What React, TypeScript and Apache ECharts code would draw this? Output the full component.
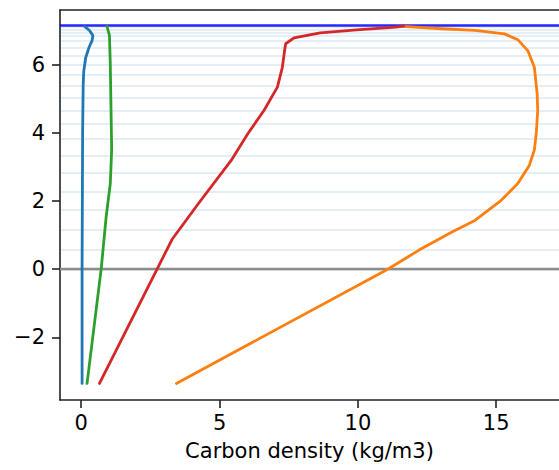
import React, { useEffect, useRef } from "react";
import * as echarts from "echarts";

// Layer boundary depths (m) drawn as faint horizontal lines
const layerLevels = [7.12, 7.03, 6.94, 6.85, 6.71, 6.5, 6.27, 6.0, 5.71, 5.39, 5.04, 4.66, 4.25, 3.81, 3.34, 2.84, 2.28, 1.73, 1.17, 0.56, -0.03];
const surfaceLevel = 7.14;
const zeroLevel = 0;

// Profiles: [carbon density (kg/m3), depth]
const profileBlue: [number, number][] = [
  [0.03, -3.35], [0.03, 0], [0.04, 2], [0.05, 4], [0.07, 5.4], [0.09, 5.8],
  [0.16, 6.2], [0.28, 6.5], [0.39, 6.7], [0.42, 6.85], [0.3, 7.0], [0.12, 7.12],
];
const profileGreen: [number, number][] = [
  [0.21, -3.35], [0.72, 0], [0.9, 1.53], [1.05, 2.51], [1.1, 3.5], [1.09, 4],
  [1.07, 5], [1.05, 6], [1.02, 6.85], [0.93, 7.12],
];
const profileRed: [number, number][] = [
  [0.66, -3.35], [3.28, 0.87], [4.23, 1.92], [5.42, 3.19], [6.02, 3.97], [6.61, 4.66],
  [7.09, 5.34], [7.27, 5.92], [7.35, 6.41], [7.39, 6.61], [7.69, 6.78], [8.64, 6.93],
  [9.95, 7.02], [11.38, 7.1], [11.66, 7.13],
];
const profileOrange: [number, number][] = [
  [3.44, -3.35], [11.08, 0.0], [12.21, 0.56], [13.4, 1.09], [14.23, 1.43], [15.18, 2.02],
  [15.78, 2.51], [16.2, 3.05], [16.38, 3.5], [16.45, 4.0], [16.5, 4.66], [16.48, 5.14],
  [16.38, 5.92], [16.14, 6.41], [15.78, 6.73], [15.3, 6.9], [14.23, 7.0], [13.04, 7.05],
  [11.61, 7.12],
];

const xTicks = [0, 5, 10, 15];
const yTicks = [-2, 0, 2, 4, 6];
const xTitle = "Carbon density (kg/m3)";

const FONT = "DejaVu Sans";

export default function App() {
  const ref = useRef<HTMLDivElement>(null);
  useEffect(() => {
    if (!ref.current) return;
    const chart = echarts.init(ref.current, undefined, { renderer: "svg" });
    const curve = (name: string, data: [number, number][], color: string) => ({
      name,
      type: "line",
      data,
      showSymbol: false,
      symbol: "none",
      smooth: false,
      lineStyle: { color, width: 2.8, join: "round", cap: "round" },
      z: 5,
      animation: false,
    });
    const fmt = (v: number) => (v < 0 ? "\u2212" + Math.abs(v) : String(v));
    chart.setOption({
      animation: false,
      grid: { left: 60, top: 10, bottom: 70, right: -6, containLabel: false },
      xAxis: [
        {
          type: "value",
          min: -0.768,
          max: 17.27,
          position: "bottom",
          name: xTitle,
          nameLocation: "middle",
          nameGap: 40,
          nameTextStyle: { fontFamily: FONT, fontSize: 21, color: "#000" },
          axisLine: { show: true, onZero: false, lineStyle: { color: "#222", width: 1.6 } },
          axisTick: { show: true, length: 8, lineStyle: { color: "#222", width: 1.6 }, customValues: xTicks },
          axisLabel: {
            fontFamily: FONT,
            fontSize: 21,
            color: "#000",
            margin: 12,
            customValues: xTicks,
            formatter: fmt,
          },
          splitLine: { show: false },
        },
        {
          type: "value",
          min: -0.768,
          max: 17.27,
          position: "top",
          axisLine: { show: true, onZero: false, lineStyle: { color: "#222", width: 1.6 } },
          axisTick: { show: false },
          axisLabel: { show: false },
          splitLine: { show: false },
        },
      ],
      yAxis: {
        type: "value",
        min: -3.836,
        max: 7.6,
        axisLine: { show: true, onZero: false, lineStyle: { color: "#222", width: 1.6 } },
        axisTick: { show: true, length: 8, lineStyle: { color: "#222", width: 1.6 }, customValues: yTicks },
        axisLabel: {
          fontFamily: FONT,
          fontSize: 21,
          color: "#000",
          margin: 15,
          customValues: yTicks,
          formatter: fmt,
        },
        splitLine: { show: false },
      },
      series: [
        {
          name: "layers",
          type: "line",
          data: [],
          z: 1,
          markLine: {
            silent: true,
            symbol: "none",
            label: { show: false },
            lineStyle: { color: "rgba(31,119,180,0.12)", width: 2, type: "solid" },
            data: layerLevels.map((y) => ({ yAxis: y })),
            animation: false,
          },
        },
        {
          name: "zero",
          type: "line",
          data: [],
          z: 2,
          markLine: {
            silent: true,
            symbol: "none",
            label: { show: false },
            lineStyle: { color: "#8c8c8c", width: 2.4, type: "solid" },
            data: [{ yAxis: zeroLevel }],
            animation: false,
          },
        },
        curve("C0", profileBlue, "#1f77b4"),
        curve("C1", profileOrange, "#ff7f0e"),
        curve("C2", profileGreen, "#2ca02c"),
        curve("C3", profileRed, "#d62728"),
        {
          name: "surface",
          type: "line",
          data: [],
          z: 10,
          markLine: {
            silent: true,
            symbol: "none",
            label: { show: false },
            lineStyle: { color: "#0000ff", width: 2.6, type: "solid", opacity: 0.85 },
            data: [{ yAxis: surfaceLevel }],
            animation: false,
          },
        },
      ],
    });
    return () => chart.dispose();
  }, []);
  return (
    <div
      ref={ref}
      style={{ position: "fixed", left: 0, top: 0, width: 559, height: 470, background: "#fff" }}
    />
  );
}
